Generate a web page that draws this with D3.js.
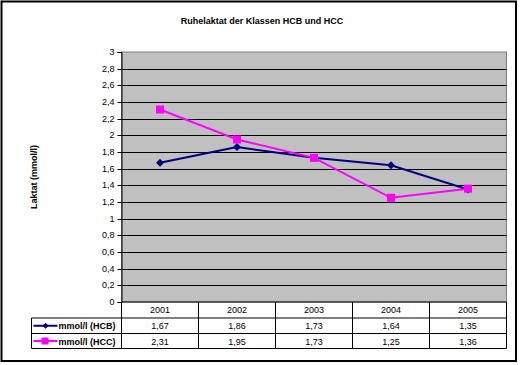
<!DOCTYPE html>
<html><head><meta charset="utf-8">
<script src="https://cdn.jsdelivr.net/npm/d3@7"></script>
<style>body{margin:0;background:#fff}svg{display:block}text{font-family:"Liberation Sans",Arial,sans-serif}</style>
</head><body><svg id="c" width="523" height="365"></svg>
<script>
const title = "Ruhelaktat der Klassen HCB und HCC";
const yLabel = "Laktat (mmol/l)";
const years = ["2001","2002","2003","2004","2005"];
const seriesNames = ["mmol/l (HCB)","mmol/l (HCC)"];
const hcb = [1.67,1.86,1.73,1.64,1.35];
const hcc = [2.31,1.95,1.73,1.25,1.36];
const yTicks = [0,0.2,0.4,0.6,0.8,1,1.2,1.4,1.6,1.8,2,2.2,2.4,2.6,2.8,3];
const colors = ["#000080","#FF00FF"];

const svg = d3.select("#c");
const fmt = v => String(+v.toFixed(2)).replace(".", ",");
svg.append("rect").attr("x",1.5).attr("y",1.5).attr("width",514.5).attr("height",359.5)
  .attr("fill","#fff").attr("stroke","#000").attr("stroke-width",2);

const L=121.5, R=506.5, T=52, B=302;
const x = d3.scaleBand().domain(years).range([L,R]);
const y = d3.scaleLinear().domain([0,3]).range([B,T]);

svg.append("rect").attr("x",L).attr("y",T).attr("width",R-L).attr("height",B-T)
  .attr("fill","#C0C0C0").attr("stroke","#808080").attr("stroke-width",1);

svg.append("g").selectAll("line").data(yTicks.slice(1,-1)).join("line")
  .attr("x1",L).attr("x2",R).attr("y1",d=>Math.round(y(d))+0.5).attr("y2",d=>Math.round(y(d))+0.5)
  .attr("stroke","#000").attr("stroke-width",1);

const yAxis = svg.append("g").attr("transform",`translate(${L},0)`)
  .call(d3.axisLeft(y).tickValues(yTicks).tickFormat(fmt).tickSize(4).tickPadding(3));
yAxis.select(".domain").attr("stroke","#000");
yAxis.selectAll("text").attr("font-size",9).attr("fill","#000");
yAxis.selectAll(".tick").attr("transform",d=>`translate(0,${Math.round(y(d))+0.5})`);

svg.append("text").attr("x",262).attr("y",24).attr("text-anchor","middle")
  .attr("font-size",9).attr("font-weight","bold").text(title);
svg.append("text").attr("transform","translate(37,177) rotate(-90)").attr("text-anchor","middle")
  .attr("font-size",9).attr("font-weight","bold").text(yLabel);

const line = d3.line().x((d,i)=>x(years[i])+x.bandwidth()/2).y(d=>y(d));
[hcb,hcc].forEach((s,k)=>{
  svg.append("path").datum(s).attr("d",line).attr("fill","none").attr("stroke",colors[k]).attr("stroke-width",2);
});
const diamond = d3.symbol().type(d3.symbolDiamond2).size(40);
svg.append("g").selectAll("path").data(hcb).join("path")
  .attr("d",diamond).attr("transform",(d,i)=>`translate(${x(years[i])+x.bandwidth()/2},${y(d)})`).attr("fill",colors[0]);
svg.append("g").selectAll("rect").data(hcc).join("rect")
  .attr("x",(d,i)=>x(years[i])+x.bandwidth()/2-4).attr("y",d=>y(d)-4).attr("width",8).attr("height",8).attr("fill",colors[1]);

// data table
const rowY = [302,318,333.5,348.5];
const tLeft = 31.5;
const tg = svg.append("g").attr("stroke","#000").attr("stroke-width",1);
tg.append("line").attr("x1",L).attr("x2",R).attr("y1",rowY[0]).attr("y2",rowY[0]);
[1,2,3].forEach(r=>tg.append("line").attr("x1",tLeft).attr("x2",R).attr("y1",rowY[r]).attr("y2",rowY[r]));
tg.append("line").attr("x1",tLeft).attr("x2",tLeft).attr("y1",rowY[1]).attr("y2",rowY[3]);
years.forEach(yr=>tg.append("line").attr("x1",x(yr)).attr("x2",x(yr)).attr("y1",rowY[0]).attr("y2",rowY[3]));
tg.append("line").attr("x1",R).attr("x2",R).attr("y1",rowY[0]).attr("y2",rowY[3]);

svg.append("g").selectAll("text").data(years).join("text")
  .attr("x",d=>x(d)+x.bandwidth()/2).attr("y",rowY[0]+11).attr("text-anchor","middle").attr("font-size",9).text(d=>d);
[hcb,hcc].forEach((s,k)=>{
  const cy = (rowY[k+1]+rowY[k+2])/2;
  svg.append("g").selectAll("text").data(s).join("text")
    .attr("x",(d,i)=>x(years[i])+x.bandwidth()/2).attr("y",cy+3.5).attr("text-anchor","middle").attr("font-size",9).text(fmt);
  svg.append("line").attr("x1",tLeft+2).attr("x2",tLeft+26).attr("y1",cy).attr("y2",cy).attr("stroke",colors[k]).attr("stroke-width",2);
  if(k===0) svg.append("path").attr("d",d3.symbol().type(d3.symbolDiamond2).size(24)).attr("transform",`translate(${tLeft+14},${cy})`).attr("fill",colors[0]);
  else svg.append("rect").attr("x",tLeft+10).attr("y",cy-3.5).attr("width",7).attr("height",7).attr("fill",colors[1]);
  svg.append("text").attr("x",tLeft+27).attr("y",cy+3.5).attr("font-size",9).attr("font-weight","bold").text(seriesNames[k]);
});
</script></body></html>
